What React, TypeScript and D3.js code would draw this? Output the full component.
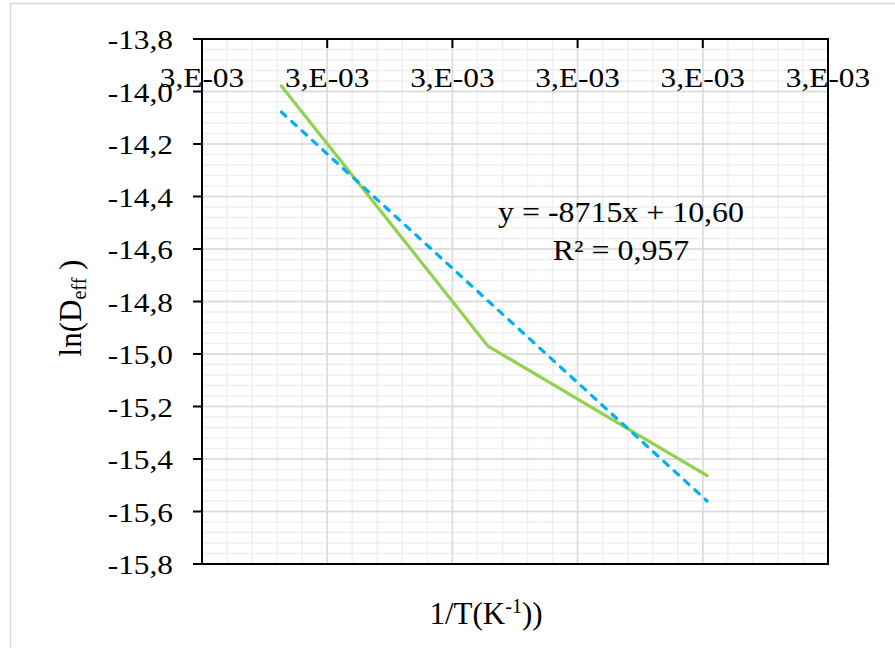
import React from "react";
import * as d3 from "d3";

// ---- data ----
const invT = [0.0028317, 0.0029142, 0.0030017]; // 1/T (K^-1)
const lnDeff = [-13.979, -14.970, -15.463];
const trendSlope = -8715;
const trendIntercept = 10.60;
const eqLine1 = "y = -8715x + 10,60";
const eqLine2 = "R² = 0,957";

const xTickValues = [0.0028, 0.00285, 0.0029, 0.00295, 0.003, 0.00305];
const xTickLabels = ["3,E-03", "3,E-03", "3,E-03", "3,E-03", "3,E-03", "3,E-03"];
const yTickValues = [-13.8, -14.0, -14.2, -14.4, -14.6, -14.8, -15.0, -15.2, -15.4, -15.6, -15.8];
const yTickLabels = ["-13,8", "-14,0", "-14,2", "-14,4", "-14,6", "-14,8", "-15,0", "-15,2", "-15,4", "-15,6", "-15,8"];

const W = 895;
const H = 648;
const FONT = "'Liberation Serif', 'Times New Roman', serif";

export default function App() {
  const x = d3.scaleLinear().domain([0.0028, 0.00305]).range([202, 828]);
  const y = d3.scaleLinear().domain([-13.8, -15.8]).range([39, 564]);

  const xMinor = d3.range(0, 26).map((i) => 0.0028 + i * 0.00001);
  const yMinor = d3.range(0, 51).map((i) => -13.8 - i * 0.04);

  const pts: [number, number][] = invT.map((v, i) => [v, lnDeff[i]]);
  const line = d3
    .line<[number, number]>()
    .x((d) => x(d[0]))
    .y((d) => y(d[1]));

  const xExt = d3.extent(invT) as [number, number];
  const trendPts: [number, number][] = xExt.map((v) => [v, trendSlope * v + trendIntercept]);

  const [x0, x1] = x.range();
  const [y0, y1] = y.range();

  return (
    <svg
      width={W}
      height={H}
      style={{ position: "fixed", left: 0, top: 0, background: "#fff" }}
      fontFamily={FONT}
    >
      <rect x={0} y={0} width={W} height={H} fill="#fff" />
      {/* outer chart border */}
      <rect x={10.5} y={3.5} width={W + 20} height={H + 20} fill="none" stroke="#d9d9d9" strokeWidth={1.5} />

      {/* minor gridlines */}
      {xMinor.map((v, i) => (
        <line key={"xm" + i} x1={x(v)} x2={x(v)} y1={y0} y2={y1} stroke="#efefef" strokeWidth={1.5} />
      ))}
      {yMinor.map((v, i) => (
        <line key={"ym" + i} x1={x0} x2={x1} y1={y(v)} y2={y(v)} stroke="#efefef" strokeWidth={1.5} />
      ))}
      {/* major gridlines */}
      {xTickValues.map((v, i) => (
        <line key={"xM" + i} x1={x(v)} x2={x(v)} y1={y0} y2={y1} stroke="#d9d9d9" strokeWidth={1.5} />
      ))}
      {yTickValues.map((v, i) => (
        <line key={"yM" + i} x1={x0} x2={x1} y1={y(v)} y2={y(v)} stroke="#d9d9d9" strokeWidth={1.5} />
      ))}

      {/* plot border / axes */}
      <rect x={x0} y={y0} width={x1 - x0} height={y1 - y0} fill="none" stroke="#000" strokeWidth={2} />

      {/* y ticks */}
      {yTickValues.map((v, i) => (
        <g key={"yt" + i}>
          <line x1={x0 - 9} x2={x0} y1={y(v)} y2={y(v)} stroke="#000" strokeWidth={2} />
          <text
            transform={`translate(${173},${y(v) + 10}) scale(1.12,1)`}
            textAnchor="end"
            fontSize={28}
            fill="#000"
          >
            {yTickLabels[i]}
          </text>
        </g>
      ))}

      {/* x ticks (top axis) */}
      {xTickValues.map((v, i) => (
        <line key={"xt" + i} x1={x(v)} x2={x(v)} y1={y0} y2={y0 + 9} stroke="#000" strokeWidth={2} />
      ))}

      {/* data line */}
      <path d={line(pts) || ""} fill="none" stroke="#92d050" strokeWidth={3.2} strokeLinecap="round" strokeLinejoin="round" />
      {/* trendline */}
      <path
        d={line(trendPts) || ""}
        fill="none"
        stroke="#00b0f0"
        strokeWidth={3.2}
        strokeDasharray="6,8"
        strokeLinecap="round"
      />

      {/* x tick labels (drawn over lines) */}
      {xTickValues.map((v, i) => (
        <text
          key={"xl" + i}
          transform={`translate(${x(v)},${87}) scale(1.12,1)`}
          textAnchor="middle"
          fontSize={28}
          fill="#000"
        >
          {xTickLabels[i]}
        </text>
      ))}

      {/* equation */}
      <text transform={`translate(${621},${222}) scale(1.1,1)`} textAnchor="middle" fontSize={29} fill="#000">
        {eqLine1}
      </text>
      <text transform={`translate(${621},${260}) scale(1.1,1)`} textAnchor="middle" fontSize={29} fill="#000">
        {eqLine2}
      </text>

      {/* axis titles */}
      <text x={486} y={624} textAnchor="middle" fontSize={31} fill="#000">
        1/T(K
        <tspan fontSize={20} dy={-11}>-1</tspan>
        <tspan dy={11}>))</tspan>
      </text>
      <text transform={`translate(${81},${308}) rotate(-90)`} textAnchor="middle" fontSize={31} fill="#000">
        ln(D
        <tspan fontSize={20} dy={5}>eff</tspan>
        <tspan dy={-5}> )</tspan>
      </text>
    </svg>
  );
}
